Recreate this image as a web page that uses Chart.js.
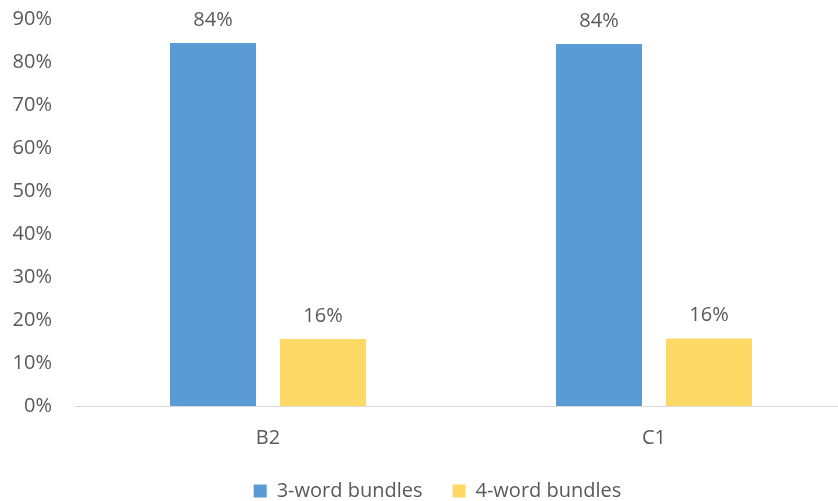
<!DOCTYPE html>
<html>
<head>
<meta charset="utf-8">
<script src="https://cdn.jsdelivr.net/npm/chart.js@4"></script>
<style>
  html, body { margin: 0; padding: 0; background: #fff; overflow: hidden; }
  #wrap { width: 847px; height: 501px; }
</style>
</head>
<body>
<div id="wrap"><canvas id="bundlesChart" width="847" height="501"></canvas></div>
<script>
// chart data
const categories = ["B2", "C1"];
const seriesNames = ["3-word bundles", "4-word bundles"];
const threeWord = [84.4, 84.2];
const fourWord = [15.6, 15.7];
const yTicks = [0, 10, 20, 30, 40, 50, 60, 70, 80, 90];

const textColor = "#595959";
const fontFamily = "'Open Sans', 'Liberation Sans', sans-serif";

// draws the rounded % value over each bar
const valueLabels = {
  id: "valueLabels",
  afterDatasetsDraw(chart) {
    const ctx = chart.ctx;
    ctx.save();
    ctx.fillStyle = textColor;
    ctx.font = "20px " + fontFamily;
    ctx.textAlign = "center";
    ctx.textBaseline = "alphabetic";
    chart.data.datasets.forEach((ds, i) => {
      chart.getDatasetMeta(i).data.forEach((bar, j) => {
        ctx.fillText(Math.round(ds.data[j]) + "%", bar.x, bar.y - 17);
      });
    });
    ctx.restore();
  },
};

// nudge the legend right/down and let the x labels hang below their box
const layoutTweaks = {
  id: "layoutTweaks",
  afterLayout(chart) {
    const lg = chart.legend;
    if (lg) {
      lg.left += 14;
      lg.right += 14;
      lg.top += 10;
      lg.bottom += 10;
    }
    chart.scales.x.bottom = chart.height;
  },
};

const ctx = document.getElementById("bundlesChart");
new Chart(ctx, {
  type: "bar",
  data: {
    labels: categories,
    datasets: [
      { label: seriesNames[0], data: threeWord, backgroundColor: "#5B9BD5" },
      { label: seriesNames[1], data: fourWord, backgroundColor: "#FFD966" },
    ],
  },
  options: {
    responsive: false,
    animation: false,
    categoryPercentage: 0.57,
    barPercentage: 0.782,
    layout: { padding: { top: 19, left: 0, right: 0, bottom: 0 } },
    scales: {
      x: {
        grid: { display: false, drawTicks: false },
        border: { display: true, color: "#D9D9D9", width: 1 },
        ticks: { color: textColor, font: { size: 20, family: fontFamily }, padding: 20 },
        afterFit: (s) => { s.height = 35; },
      },
      y: {
        min: 0,
        max: 90,
        afterBuildTicks: (s) => { s.ticks = yTicks.map((v) => ({ value: v })); },
        grid: { display: false, drawTicks: false },
        border: { display: false },
        ticks: {
          color: textColor,
          font: { size: 20, family: fontFamily },
          padding: 23,
          callback: (v) => v + "%",
        },
        afterFit: (s) => {
          s.width = 75;
          s.paddingTop = 0;
          s.paddingBottom = 0;
        },
      },
    },
    plugins: {
      legend: {
        position: "bottom",
        labels: {
          color: textColor,
          font: { size: 20, family: fontFamily },
          boxWidth: 13,
          boxHeight: 13,
          padding: 30,
        },
      },
      tooltip: { enabled: false },
    },
  },
  plugins: [valueLabels, layoutTweaks],
});
</script>
</body>
</html>
